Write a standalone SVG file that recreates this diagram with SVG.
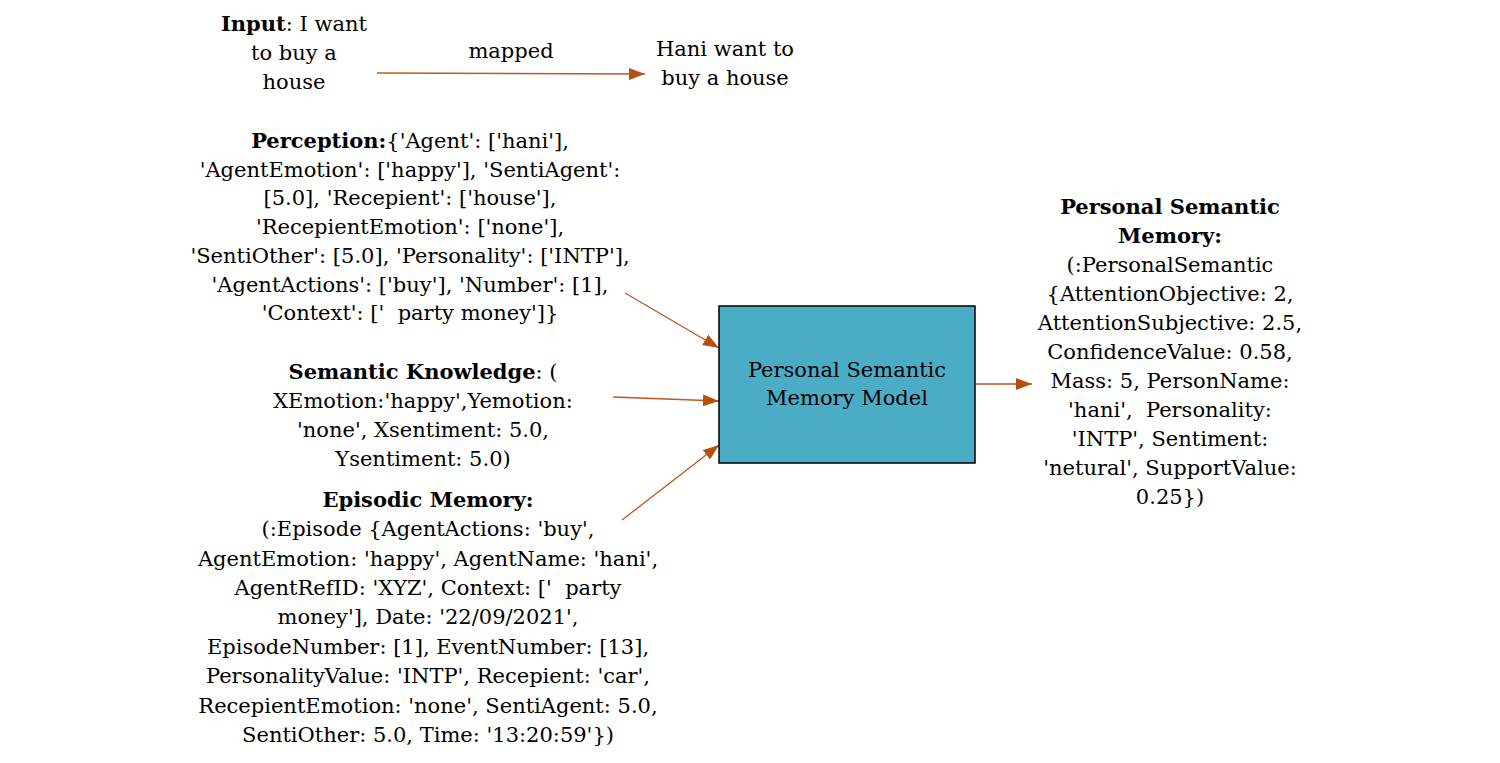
<svg xmlns="http://www.w3.org/2000/svg" width="1500" height="763" viewBox="0 0 1500 763">
<defs>
<style>
text{font-family:"DejaVu Serif","Liberation Serif",serif;font-size:21px;fill:#000;text-anchor:middle;white-space:pre}
.b{font-weight:bold}
.c{stroke:#C0571B;stroke-width:1.3;fill:none}
</style>
<marker id="ah" viewBox="0 0 16 12" refX="16" refY="6" markerWidth="16" markerHeight="12" markerUnits="userSpaceOnUse" orient="auto">
<path d="M0,0L16,6L0,12z" fill="#B5510F"/>
</marker>
</defs>
<rect width="1500" height="763" fill="#fff"/>
<g id="connectors">
<line class="c" x1="377" y1="73" x2="645" y2="74" marker-end="url(#ah)"/>
<line class="c" x1="625" y1="293" x2="719" y2="348" marker-end="url(#ah)"/>
<line class="c" x1="613" y1="397" x2="719" y2="401" marker-end="url(#ah)"/>
<line class="c" x1="622" y1="520" x2="719" y2="445" marker-end="url(#ah)"/>
<line class="c" x1="976" y1="384" x2="1032" y2="384" marker-end="url(#ah)"/>
<text x="511" y="58">mapped</text>
</g>
<g id="input">
<text x="294" y="31"><tspan class="b">Input</tspan>: I want</text>
<text x="294" y="60">to buy a</text>
<text x="294" y="89">house</text>
</g>
<g id="mapped-output">
<text x="725" y="56">Hani want to</text>
<text x="725" y="85">buy a house</text>
</g>
<g id="perception">
<text x="410" y="148"><tspan class="b">Perception:</tspan>{'Agent': ['hani'],</text>
<text x="410" y="177">'AgentEmotion': ['happy'], 'SentiAgent':</text>
<text x="410" y="205">[5.0], 'Recepient': ['house'],</text>
<text x="410" y="234">'RecepientEmotion': ['none'],</text>
<text x="410" y="263">'SentiOther': [5.0], 'Personality': ['INTP'],</text>
<text x="410" y="292">'AgentActions': ['buy'], 'Number': [1],</text>
<text x="410" y="320">'Context': ['  party money']}</text>
</g>
<g id="semantic-knowledge">
<text x="423" y="379"><tspan class="b">Semantic Knowledge</tspan>: (</text>
<text x="423" y="408">XEmotion:'happy',Yemotion:</text>
<text x="423" y="437">'none', Xsentiment: 5.0,</text>
<text x="423" y="466">Ysentiment: 5.0)</text>
</g>
<g id="episodic-memory">
<text x="428" y="507" class="b">Episodic Memory:</text>
<text x="428" y="536">(:Episode {AgentActions: 'buy',</text>
<text x="428" y="566">AgentEmotion: 'happy', AgentName: 'hani',</text>
<text x="428" y="595">AgentRefID: 'XYZ', Context: ['  party</text>
<text x="428" y="624">money'], Date: '22/09/2021',</text>
<text x="428" y="654">EpisodeNumber: [1], EventNumber: [13],</text>
<text x="428" y="683">PersonalityValue: 'INTP', Recepient: 'car',</text>
<text x="428" y="713">RecepientEmotion: 'none', SentiAgent: 5.0,</text>
<text x="428" y="742">SentiOther: 5.0, Time: '13:20:59'})</text>
</g>
<g id="model">
<rect x="719" y="306" width="256" height="157" fill="#4BACC6" stroke="#000" stroke-width="1.5"/>
<text x="847" y="377">Personal Semantic</text>
<text x="847" y="405">Memory Model</text>
</g>
<g id="personal-semantic-memory">
<text x="1170" y="214" class="b">Personal Semantic</text>
<text x="1170" y="243" class="b">Memory:</text>
<text x="1170" y="272">(:PersonalSemantic</text>
<text x="1170" y="301">{AttentionObjective: 2,</text>
<text x="1170" y="330">AttentionSubjective: 2.5,</text>
<text x="1170" y="359">ConfidenceValue: 0.58,</text>
<text x="1170" y="388">Mass: 5, PersonName:</text>
<text x="1170" y="417">'hani',  Personality:</text>
<text x="1170" y="446">'INTP', Sentiment:</text>
<text x="1170" y="475">'netural', SupportValue:</text>
<text x="1170" y="504">0.25})</text>
</g>
</svg>
